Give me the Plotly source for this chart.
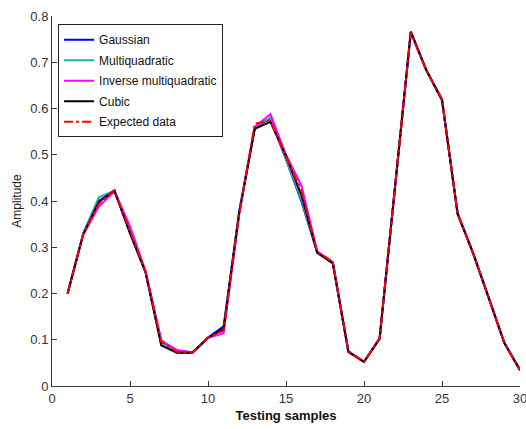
import plotly.graph_objects as go

# Sample index along the test set
samples = list(range(1, 31))

# Model outputs for each radial basis function kernel
gaussian = [0.200, 0.329, 0.400, 0.422, 0.332, 0.246, 0.098, 0.073, 0.072, 0.105,
            0.129, 0.378, 0.560, 0.578, 0.490, 0.398, 0.289, 0.267, 0.074, 0.052,
            0.103, 0.430, 0.765, 0.682, 0.619, 0.373, 0.287, 0.190, 0.093, 0.035]
multiquadratic = [0.201, 0.330, 0.408, 0.422, 0.333, 0.246, 0.094, 0.074, 0.072, 0.105,
                  0.122, 0.376, 0.560, 0.580, 0.490, 0.402, 0.289, 0.267, 0.074, 0.052,
                  0.103, 0.430, 0.765, 0.682, 0.619, 0.373, 0.287, 0.190, 0.093, 0.035]
inverse_mq = [0.200, 0.327, 0.388, 0.421, 0.345, 0.248, 0.098, 0.078, 0.073, 0.104,
              0.114, 0.372, 0.560, 0.588, 0.500, 0.432, 0.291, 0.268, 0.075, 0.053,
              0.103, 0.430, 0.765, 0.682, 0.620, 0.373, 0.287, 0.190, 0.093, 0.035]
cubic = [0.200, 0.328, 0.398, 0.423, 0.330, 0.245, 0.088, 0.072, 0.072, 0.104,
         0.124, 0.375, 0.556, 0.571, 0.497, 0.412, 0.288, 0.265, 0.074, 0.052,
         0.102, 0.430, 0.766, 0.683, 0.618, 0.372, 0.286, 0.190, 0.093, 0.034]
expected = [0.200, 0.328, 0.394, 0.423, 0.335, 0.247, 0.096, 0.074, 0.072, 0.105,
            0.120, 0.370, 0.567, 0.574, 0.495, 0.420, 0.290, 0.268, 0.075, 0.052,
            0.103, 0.430, 0.764, 0.682, 0.620, 0.373, 0.287, 0.190, 0.092, 0.035]

series = [
    ("Gaussian", gaussian, "#0000ff", "solid"),
    ("Multiquadratic", multiquadratic, "#1fb0b0", "solid"),
    ("Inverse multiquadratic", inverse_mq, "#ff00ff", "solid"),
    ("Cubic", cubic, "#000000", "solid"),
    ("Expected data", expected, "#ff0000", "dashdot"),
]

x_ticks = [0, 5, 10, 15, 20, 25, 30]
y_ticks = [0, 0.1, 0.2, 0.3, 0.4, 0.5, 0.6, 0.7, 0.8]

FONT = "Liberation Sans Narrow, Arial Narrow, Liberation Sans, Arial, sans-serif"
AXIS_COLOR = "#3a3a3a"

fig = go.Figure()
for name, values, color, dash in series:
    fig.add_trace(go.Scatter(
        x=samples, y=values, mode="lines", name=name, legendgroup=name,
        line=dict(color=color, width=2, dash=dash),
    ))

fig.update_layout(
    width=526, height=429,
    margin=dict(l=52, r=6, t=16, b=43),
    paper_bgcolor="white", plot_bgcolor="white",
    font=dict(family=FONT, size=13, color="#222222"),
    showlegend=True,
    legend=dict(
        x=0.013, y=0.978, xanchor="left", yanchor="top",
        bgcolor="white", bordercolor="#222222", borderwidth=1,
        font=dict(family=FONT, size=12, color="#111111"),
        tracegroupgap=1.5, itemwidth=30,
    ),
    xaxis=dict(
        range=[0, 30], tickvals=x_ticks, ticktext=[str(v) for v in x_ticks],
        showgrid=False, zeroline=False, showline=True, linecolor=AXIS_COLOR, linewidth=1,
        ticks="inside", ticklen=5, tickcolor=AXIS_COLOR, mirror=False,
        ticklabeloverflow="allow", automargin=False,
        tickfont=dict(family=FONT, size=13, color="#333333"),
        title=dict(text="<b>Testing samples</b>", standoff=6,
                   font=dict(family=FONT, size=13, color="#111111")),
    ),
    yaxis=dict(
        range=[0, 0.8], tickvals=y_ticks, ticktext=["0" if v == 0 else str(v) for v in y_ticks],
        showgrid=False, zeroline=False, showline=True, linecolor=AXIS_COLOR, linewidth=1,
        ticks="inside", ticklen=5, tickcolor=AXIS_COLOR, mirror=False,
        automargin=False,
        tickfont=dict(family=FONT, size=13, color="#333333"),
        title=dict(text="Amplitude", standoff=6,
                   font=dict(family=FONT, size=12, color="#222222")),
    ),
)

fig.write_html("out.html")
